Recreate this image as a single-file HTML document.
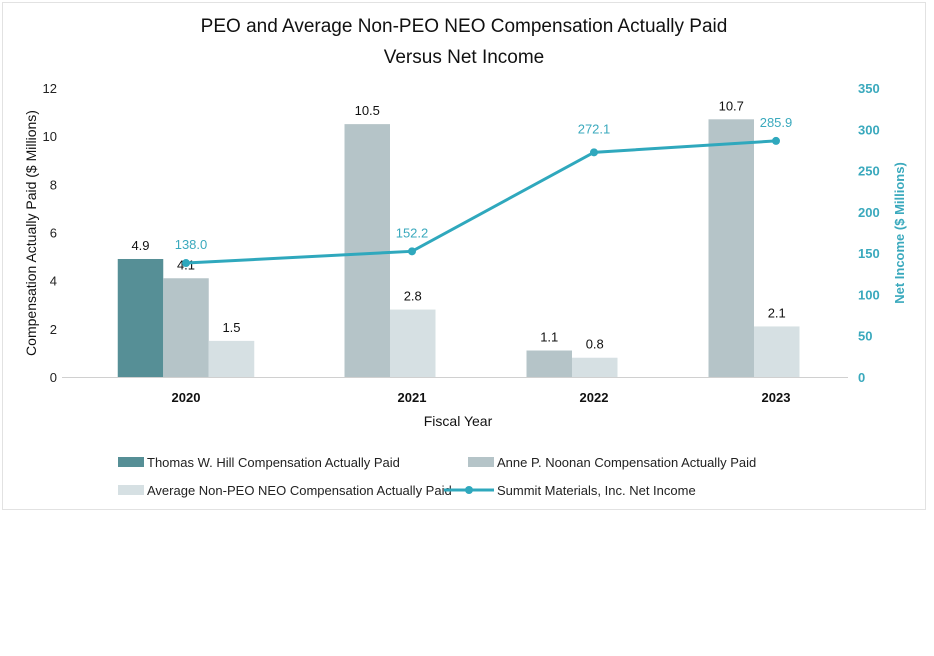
<!DOCTYPE html>
<html><head><meta charset="utf-8"><style>
body{margin:0;background:#fff;width:934px;height:656px;overflow:hidden;font-family:"Liberation Sans",sans-serif}
</style></head><body>
<svg width="934" height="656" style="position:absolute;left:0;top:0">
<rect x="2.5" y="2.5" width="923" height="507" fill="#fff" stroke="#e2e2e2"/>
<text x="464" y="32" text-anchor="middle" font-size="19" fill="#111">PEO and Average Non-PEO NEO Compensation Actually Paid</text>
<text x="464" y="63" text-anchor="middle" font-size="19" fill="#111">Versus Net Income</text>
<g id="plot"></g>
</svg>
<script>
const categories=["2020","2021","2022","2023"];
const thomas=[4.9,null,null,null];
const anne=[4.1,10.5,1.1,10.7];
const avgNeo=[1.5,2.8,0.8,2.1];
const netIncome=[138.0,152.2,272.1,285.9];
const leftTicks=[0,2,4,6,8,10,12];
const rightTicks=[0,50,100,150,200,250,300,350];

const NS="http://www.w3.org/2000/svg";
const g=document.getElementById('plot');
const y0=377,yTop=88;
const yL=v=>y0-(v/12)*(y0-yTop);
const yR=v=>y0-(v/350)*(y0-yTop);
const xC=i=>i==0?186:412+(i-1)*182;
const bw=45.5;
function el(t,a,txt){const e=document.createElementNS(NS,t);for(const k in a)e.setAttribute(k,a[k]);if(txt!=null)e.textContent=txt;g.appendChild(e);return e;}

el('line',{x1:62,x2:848,y1:y0+0.5,y2:y0+0.5,stroke:'#d0d0d0'});
leftTicks.forEach(v=>{const t=el('text',{x:57,y:yL(v)+5,'text-anchor':'end','font-size':13,fill:'#222'},v);
});
rightTicks.forEach(v=>{const t=el('text',{x:858,y:yR(v)+5,'font-size':13,fill:'#3aa9bd','font-weight':'bold'},v);
});

const series=[[thomas,'#568f96','thomas'],[anne,'#b5c4c8','anne'],[avgNeo,'#d6e0e3','avg-neo']];
categories.forEach((c,i)=>{
  const present=series.filter(s=>s[0][i]!=null);
  const center=xC(i)-(present.length<3?22:0);
  let x=center-present.length*bw/2;
  present.forEach(s=>{const v=s[0][i];
    const r=el('rect',{x:x,y:yL(v),width:bw,height:y0-yL(v),fill:s[1]});
    
    const t=el('text',{x:x+bw/2,y:yL(v)-9,'text-anchor':'middle','font-size':13,fill:'#111'},v.toFixed(1));
    
    x+=bw;});
  const t=el('text',{x:xC(i),y:402,'text-anchor':'middle','font-size':13,'font-weight':'bold',fill:'#111'},c);
  
});
const pts=netIncome.map((v,i)=>xC(i)+','+yR(v)).join(' ');
const pl=el('polyline',{points:pts,fill:'none',stroke:'#2fa8bd','stroke-width':3});

netIncome.forEach((v,i)=>{
  const c=el('circle',{cx:xC(i),cy:yR(v),r:4,fill:'#2fa8bd'});
  
  const t=el('text',{x:xC(i)+(i==0?5:0),y:yR(v)-(i==2?19:14),'text-anchor':'middle','font-size':13,fill:'#3aa9bd'},v.toFixed(1));
  
});
let t;
t=el('text',{x:458,y:426,'text-anchor':'middle','font-size':14,fill:'#111'},'Fiscal Year');

t=el('text',{transform:'translate(36,233) rotate(-90)','text-anchor':'middle','font-size':14,fill:'#111'},'Compensation Actually Paid ($ Millions)');

t=el('text',{transform:'translate(904,233) rotate(-90)','text-anchor':'middle','font-size':13,'font-weight':'bold',fill:'#3aa9bd'},'Net Income ($ Millions)');


const leg=[[118,462,'#568f96','Thomas W. Hill Compensation Actually Paid','rect'],[468,462,'#b5c4c8','Anne P. Noonan Compensation Actually Paid','rect'],
[118,490,'#d6e0e3','Average Non-PEO NEO Compensation Actually Paid','rect'],[444,490,'#2fa8bd','Summit Materials, Inc. Net Income','line']];
leg.forEach(l=>{
  let s;
  if(l[4]=='rect'){s=el('rect',{x:l[0],y:l[1]-5,width:26,height:10,fill:l[2]});}
  else{s=el('line',{x1:l[0],x2:l[0]+50,y1:l[1],y2:l[1],stroke:l[2],'stroke-width':3});el('circle',{cx:l[0]+25,cy:l[1],r:4,fill:l[2]});}
  
  const tx=el('text',{x:l[4]=='rect'?l[0]+29:l[0]+53,y:l[1]+5,'font-size':13,fill:'#222'},l[3]);
  
});
</script>
</body></html>
